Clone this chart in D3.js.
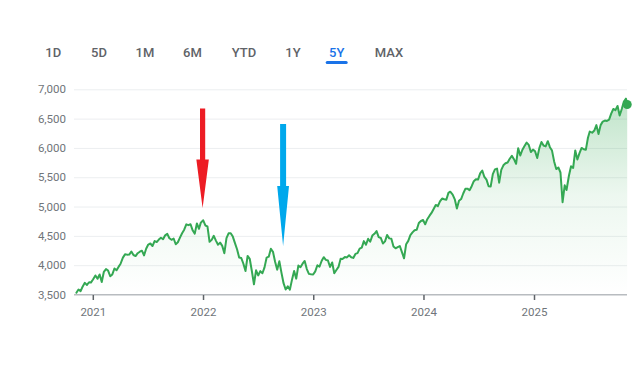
<!DOCTYPE html>
<html>
<head>
<meta charset="utf-8">
<script src="https://cdn.jsdelivr.net/npm/d3@7"></script>
<style>
  html, body { margin: 0; padding: 0; background: #ffffff; }
  svg { display: block; font-family: Roboto, "Noto Sans", Arial, sans-serif; }
</style>
</head>
<body>
<svg id="chart" width="640" height="367"></svg>
<script>
// ---- Data (weekly closes) ----
const ranges = ["1D", "5D", "1M", "6M", "YTD", "1Y", "5Y", "MAX"];
const activeRange = "5Y";
const yTicks = [3500, 4000, 4500, 5000, 5500, 6000, 6500, 7000];
const xTickYears = [2021, 2022, 2023, 2024, 2025];

const weeks2020 = ["11-06","11-13","11-20","11-27","12-04","12-11","12-18","12-24","12-31"];
const closes2020 = [3530,3585,3557,3638,3699,3663,3709,3703,3756];

const weeks2021 = ["01-08","01-15","01-22","01-29","02-05","02-12","02-19","02-26","03-05","03-12","03-19","03-26",
  "04-01","04-09","04-16","04-23","04-30","05-07","05-14","05-21","05-28","06-04","06-11","06-18","06-25",
  "07-02","07-09","07-16","07-23","07-30","08-06","08-13","08-20","08-27","09-03","09-10","09-17","09-24",
  "10-01","10-08","10-15","10-22","10-29","11-05","11-12","11-19","11-26","12-03","12-10","12-17","12-23","12-31"];
const closes2021 = [3825,3768,3841,3714,3887,3934,3907,3811,3842,3943,3913,3975,
  4020,4129,4185,4180,4181,4233,4174,4156,4204,4230,4247,4166,4281,
  4352,4370,4327,4412,4395,4437,4468,4442,4509,4535,4459,4433,4455,
  4357,4391,4471,4545,4605,4697,4683,4698,4595,4538,4712,4621,4726,4766];

const weeks2022 = ["01-07","01-14","01-21","01-28","02-04","02-11","02-18","02-25","03-04","03-11","03-18","03-25",
  "04-01","04-08","04-14","04-22","04-29","05-06","05-13","05-20","05-27","06-03","06-10","06-17","06-24",
  "07-01","07-08","07-15","07-22","07-29","08-05","08-12","08-19","08-26","09-02","09-09","09-16","09-23","09-30",
  "10-07","10-14","10-21","10-28","11-04","11-11","11-18","11-25","12-02","12-09","12-16","12-23","12-30"];
const closes2022 = [4677,4663,4398,4432,4501,4419,4349,4385,4329,4204,4463,4543,
  4546,4488,4393,4272,4132,4123,4024,3901,4158,4109,3901,3675,3912,
  3825,3899,3863,3962,4130,4145,4280,4228,4058,3924,4067,3873,3693,3586,
  3640,3583,3753,3901,3771,3993,3965,4026,4072,3934,3852,3845,3840];

const weeks2023 = ["01-06","01-13","01-20","01-27","02-03","02-10","02-17","02-24","03-03","03-10","03-17","03-24","03-31",
  "04-06","04-14","04-21","04-28","05-05","05-12","05-19","05-26","06-02","06-09","06-16","06-23","06-30",
  "07-07","07-14","07-21","07-28","08-04","08-11","08-18","08-25","09-01","09-08","09-15","09-22","09-29",
  "10-06","10-13","10-20","10-27","11-03","11-10","11-17","11-24","12-01","12-08","12-15","12-22","12-29"];
const closes2023 = [3895,3999,3973,4071,4136,4090,4079,3970,4046,3862,3917,3971,4109,
  4105,4138,4133,4169,4136,4124,4192,4205,4282,4299,4410,4348,4450,
  4399,4505,4536,4582,4478,4464,4370,4406,4516,4457,4450,4320,4288,
  4308,4327,4224,4117,4358,4415,4514,4559,4595,4604,4719,4755,4770];

const weeks2024 = ["01-05","01-12","01-19","01-26","02-02","02-09","02-16","02-23","03-01","03-08","03-15","03-22","03-28",
  "04-05","04-12","04-19","04-26","05-03","05-10","05-17","05-24","05-31","06-07","06-14","06-21","06-28",
  "07-05","07-12","07-19","07-26","08-02","08-09","08-16","08-23","08-30","09-06","09-13","09-20","09-27",
  "10-04","10-11","10-18","10-25","11-01","11-08","11-15","11-22","11-29","12-06","12-13","12-20","12-27"];
const closes2024 = [4697,4784,4840,4891,4959,5027,5006,5089,5137,5124,5117,5234,5254,
  5204,5123,4967,5100,5128,5223,5303,5305,5278,5347,5432,5465,5460,
  5567,5615,5505,5459,5347,5344,5554,5634,5648,5408,5626,5703,5738,
  5751,5815,5864,5808,5729,5996,5871,5969,6032,6090,6051,5931,5971];

const weeks2025 = ["01-03","01-10","01-17","01-24","01-31","02-07","02-14","02-21","02-28","03-07","03-14","03-21","03-28",
  "04-04","04-11","04-17","04-25","05-02","05-09","05-16","05-23","05-30","06-06","06-13","06-20","06-27",
  "07-03","07-11","07-18","07-25","08-01","08-08","08-15","08-22","08-29","09-05","09-12","09-19","09-26",
  "10-03","10-10","10-17","10-24","10-31","11-04"];
const closes2025 = [5942,5827,5997,6101,6041,6026,6115,6013,5955,5770,5639,5667,5581,
  5074,5363,5283,5525,5686,5660,5958,5803,5912,6000,5977,5968,6173,
  6279,6260,6297,6389,6238,6389,6450,6467,6460,6482,6584,6664,6644,
  6716,6553,6664,6792,6840,6740];

// ---- Build series ----
const parse = d3.timeParse("%Y-%m-%d");
const yearly = [
  [2020, weeks2020, closes2020], [2021, weeks2021, closes2021], [2022, weeks2022, closes2022],
  [2023, weeks2023, closes2023], [2024, weeks2024, closes2024], [2025, weeks2025, closes2025]
];
const series = [];
yearly.forEach(([yr, wk, cl]) => wk.forEach((w, i) => series.push({ date: parse(yr + "-" + w), value: cl[i] })));

// ---- Layout ----
const svg = d3.select("#chart");
const plotLeft = 74, plotRight = 627;
const x = d3.scaleTime()
  .domain([new Date(2021, 0, 1), new Date(2025, 0, 1)])
  .range([93.3, 534.5]);
const y = d3.scaleLinear().domain([3500, 7000]).range([294.5, 89.3]);

// ---- Range selector ----
const btnCenters = [53.3, 99, 145, 192.5, 244, 293, 336.7, 389];
const btns = svg.append("g");
btns.selectAll("text").data(ranges).join("text")
  .attr("x", (d, i) => btnCenters[i])
  .attr("y", 57.2)
  .attr("text-anchor", "middle")
  .attr("font-size", 13)
  .attr("font-weight", 500)
  .attr("fill", d => d === activeRange ? "#1a73e8" : "#5f6368")
  .text(d => d);
const ai = ranges.indexOf(activeRange);
btns.append("line")
  .attr("x1", btnCenters[ai] - 9.5).attr("x2", btnCenters[ai] + 9.5)
  .attr("y1", 62.5).attr("y2", 62.5)
  .attr("stroke", "#1a73e8").attr("stroke-width", 3).attr("stroke-linecap", "round");

// ---- Gridlines ----
svg.append("g").selectAll("line").data(yTicks.filter(t => t > 3500)).join("line")
  .attr("x1", plotLeft).attr("x2", plotRight)
  .attr("y1", d => y(d) + 0.5).attr("y2", d => y(d) + 0.5)
  .attr("stroke", "#eceef0").attr("stroke-width", 1);

// ---- Y labels ----
svg.append("g").selectAll("text").data(yTicks).join("text")
  .attr("x", 66).attr("y", d => y(d))
  .attr("dy", "0.36em")
  .attr("text-anchor", "end")
  .attr("font-size", 11.5)
  .attr("fill", "#70757a")
  .text(d => d3.format(",")(d));

// ---- Area gradient ----
const defs = svg.append("defs");
const grad = defs.append("linearGradient").attr("id", "areaGrad")
  .attr("gradientUnits", "userSpaceOnUse")
  .attr("x1", 0).attr("x2", 0).attr("y1", y(6900)).attr("y2", y(3500));
grad.append("stop").attr("offset", "0%").attr("stop-color", "#34a853").attr("stop-opacity", 0.32);
grad.append("stop").attr("offset", "50%").attr("stop-color", "#34a853").attr("stop-opacity", 0.09);
grad.append("stop").attr("offset", "100%").attr("stop-color", "#34a853").attr("stop-opacity", 0.0);

const area = d3.area().x(d => x(d.date)).y0(y(3500)).y1(d => y(d.value));
svg.append("path").datum(series).attr("d", area).attr("fill", "url(#areaGrad)");

// ---- Axis ----
const axisG = svg.append("g");
axisG.append("line")
  .attr("x1", plotLeft).attr("x2", plotRight)
  .attr("y1", 294.8).attr("y2", 294.8)
  .attr("stroke", "#b8bcc0").attr("stroke-width", 1.5);
const tickG = axisG.selectAll("g.tick").data(xTickYears).join("g")
  .attr("transform", d => `translate(${x(new Date(d, 0, 1))},0)`);
tickG.append("line").attr("y1", 295).attr("y2", 300)
  .attr("stroke", "#5f6368").attr("stroke-width", 1.5);
tickG.append("text").attr("y", 315.5).attr("text-anchor", "middle")
  .attr("font-size", 11.5).attr("fill", "#70757a").text(d => d);

// ---- Line ----
const line = d3.line().x(d => x(d.date)).y(d => y(d.value));
svg.append("path").datum(series).attr("d", line)
  .attr("fill", "none").attr("stroke", "#34a853").attr("stroke-width", 2)
  .attr("stroke-linejoin", "round").attr("stroke-linecap", "round");
const last = series[series.length - 1];
svg.append("circle").attr("cx", x(last.date)).attr("cy", y(last.value)).attr("r", 4.5).attr("fill", "#34a853");

// ---- Annotation arrows ----
function arrow(cx, top, headTop, tip, shaftW, headW, color) {
  const p = d3.path();
  p.moveTo(cx - shaftW / 2, top);
  p.lineTo(cx + shaftW / 2, top);
  p.lineTo(cx + shaftW / 2, headTop);
  p.lineTo(cx + headW / 2, headTop);
  p.lineTo(cx, tip);
  p.lineTo(cx - headW / 2, headTop);
  p.lineTo(cx - shaftW / 2, headTop);
  p.closePath();
  svg.append("path").attr("d", p.toString()).attr("fill", color);
}
arrow(202.6, 108.5, 159.5, 208, 5.2, 12.5, "#ed1c24");
arrow(283.1, 124, 186, 246, 6, 11.8, "#00a8ec");
</script>
</body>
</html>
